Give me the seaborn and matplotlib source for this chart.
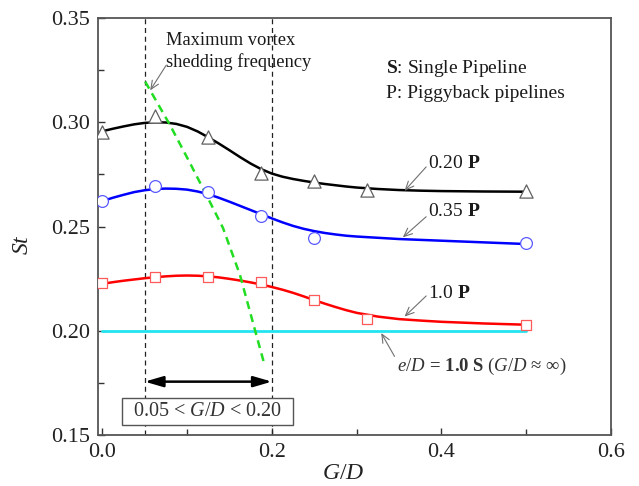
import matplotlib
matplotlib.use("Agg")
import matplotlib.pyplot as plt
import seaborn as sns
import numpy as np
import pandas as pd
from matplotlib.patches import Rectangle
from matplotlib.ticker import MultipleLocator

# ---------------- data ----------------
# measured points
gd_pts = [0.0, 0.0625, 0.125, 0.1875, 0.25, 0.3125, 0.5]
st_020 = [0.2955, 0.3032, 0.2928, 0.2756, 0.2718, 0.2675, 0.2670]
gd_pts_035 = [0.0, 0.0625, 0.125, 0.1875, 0.25, 0.5]
st_035 = [0.2622, 0.2694, 0.2665, 0.2550, 0.2445, 0.2421]
st_100 = [0.2230, 0.2258, 0.2258, 0.2234, 0.2148, 0.2057, 0.2029]

# fitted curves
gd_fit = [0.0, 0.0125, 0.025, 0.0375, 0.05, 0.0625, 0.075, 0.0875, 0.1, 0.1125,
          0.125, 0.1375, 0.15, 0.1625, 0.175, 0.1875, 0.2, 0.2125, 0.225, 0.2375,
          0.25, 0.2625, 0.275, 0.2875, 0.3, 0.325, 0.35, 0.375, 0.4, 0.45, 0.5]
fit_020 = [0.2957, 0.2969, 0.2980, 0.2990, 0.2997, 0.3000, 0.2999, 0.2992, 0.2978, 0.2956,
           0.2928, 0.2898, 0.2866, 0.2833, 0.2802, 0.2775, 0.2754, 0.2739, 0.2728, 0.2719,
           0.2711, 0.2704, 0.2698, 0.2692, 0.2687, 0.2680, 0.2675, 0.2672, 0.2670, 0.2668, 0.2667]
fit_035 = [0.2622, 0.2638, 0.2652, 0.2665, 0.2674, 0.2680, 0.2682, 0.2681, 0.2677, 0.2668,
           0.2655, 0.2638, 0.2619, 0.2599, 0.2579, 0.2559, 0.2539, 0.2520, 0.2503, 0.2489,
           0.2478, 0.2469, 0.2462, 0.2456, 0.2452, 0.2446, 0.2440, 0.2436, 0.2432, 0.2424, 0.2416]
fit_100 = [0.2225, 0.2233, 0.2240, 0.2246, 0.2252, 0.2257, 0.2261, 0.2264, 0.2265, 0.2264,
           0.2261, 0.2256, 0.2249, 0.2241, 0.2232, 0.2222, 0.2210, 0.2197, 0.2182, 0.2165,
           0.2147, 0.2130, 0.2114, 0.2099, 0.2086, 0.2068, 0.2056, 0.2049, 0.2043, 0.2035, 0.2029]

# single pipeline reference
gd_single = [0.0, 0.5]
st_single = [0.20, 0.20]

# maximum vortex shedding frequency trend
gd_max = [0.0506, 0.0800, 0.1035, 0.1247, 0.1424, 0.1624, 0.1800, 0.1906]
st_max = [0.3195, 0.2986, 0.2804, 0.2636, 0.2493, 0.2268, 0.2005, 0.1848]

# range
range_lo, range_hi = 0.05, 0.20

# ---------------- style ----------------
sns.set_theme(style="ticks")
plt.rcParams["font.family"] = ["Liberation Serif", "DejaVu Serif"]
plt.rcParams["mathtext.fontset"] = "custom"
plt.rcParams["mathtext.rm"] = "Liberation Serif"
plt.rcParams["mathtext.it"] = "Liberation Serif:italic"
plt.rcParams["mathtext.bf"] = "Liberation Serif:bold"

fig = plt.figure(figsize=(6.39, 4.86), dpi=100)
ax = fig.add_axes([0.1534, 0.1049, 0.8028, 0.858])

# vertical dashed lines
for xv in (range_lo, range_hi):
    ax.axvline(xv, color="#222222", lw=0.9, ls=(0, (4, 3)), zorder=1)

# fitted lines
sns.lineplot(x=gd_fit, y=fit_020, ax=ax, color="black", lw=1.8, zorder=2)
sns.lineplot(x=gd_fit, y=fit_035, ax=ax, color="#0000ff", lw=1.8, zorder=2)
sns.lineplot(x=gd_fit, y=fit_100, ax=ax, color="#ff0000", lw=1.8, zorder=2)
sns.lineplot(x=gd_single, y=st_single, ax=ax, color="#22e5f0", lw=2.0, zorder=2)
sns.lineplot(x=gd_max, y=st_max, ax=ax, color="#22dd22", lw=1.8, zorder=3,
             linestyle=(0, (3.2, 2.2)))

# markers
sns.scatterplot(x=gd_pts, y=st_020, ax=ax, marker="^", s=9.5**2, facecolor="white",
                edgecolor="#606060", linewidth=0.9, zorder=4)
sns.scatterplot(x=gd_pts_035, y=st_035, ax=ax, marker="o", s=8.5**2, facecolor="white",
                edgecolor="#5a5aff", linewidth=0.9, zorder=4)
sns.scatterplot(x=gd_pts, y=st_100, ax=ax, marker="s", s=6.8**2, facecolor="white",
                edgecolor="#ff5a5a", linewidth=0.9, zorder=4)

ax.xaxis.set_major_locator(MultipleLocator(0.2))
ax.xaxis.set_minor_locator(MultipleLocator(0.1))
ax.yaxis.set_minor_locator(MultipleLocator(0.025))
ax.set_xticks([0.0, 0.2, 0.4, 0.6])
ax.set_xticklabels(["0.0", "0.2", "0.4", "0.6"])
ax.set_yticks([0.15, 0.20, 0.25, 0.30, 0.35])
ax.set_yticklabels(["0.15", "0.20", "0.25", "0.30", "0.35"])
ax.set_xlim(-0.005, 0.6)
ax.set_ylim(0.15, 0.35)
ax.tick_params(which="both", direction="in", top=False, right=False,
               colors="#333333", labelcolor="#222222", width=1.0)
ax.tick_params(which="major", length=5, labelsize=16, pad=6)
ax.tick_params(which="minor", length=4)
for sp in ax.spines.values():
    sp.set_visible(True)
    sp.set_color("#555555")
    sp.set_linewidth(1.3)

ax.set_xlabel("$G/D$", fontsize=17, color="#222222")
ax.set_ylabel("$St$", fontsize=17, color="#222222")
ax.xaxis.set_label_coords(0.478, -0.067)
ax.yaxis.set_label_coords(-0.127, 0.456)

txt = "#1a1a1a"
gray_arrow = dict(arrowstyle="->,head_length=0.5,head_width=0.22", color="#707070", lw=0.8,
                  shrinkA=0, shrinkB=0)

ax.text(0.0753, 0.3431, "Maximum vortex\nshedding frequency", fontsize=13.3,
        ha="left", va="top", color=txt, linespacing=1.25)
ax.annotate("", xy=(0.0565, 0.3153), xytext=(0.0753, 0.3273), arrowprops=gray_arrow)

ax.text(0.335, 0.3258, r"$\mathbf{S}$: Single Pipeline", fontsize=14, ha="left", va="center", color=txt)
ax.text(0.335, 0.3139, "P: Piggyback pipelines", fontsize=14, ha="left", va="center", color=txt)

ax.text(0.384, 0.2804, r"0.20 $\mathbf{P}$", fontsize=14, ha="left", va="center", color=txt)
ax.annotate("", xy=(0.3565, 0.2671), xytext=(0.382, 0.2786), arrowprops=gray_arrow)
ax.text(0.384, 0.2571, r"0.35 $\mathbf{P}$", fontsize=14, ha="left", va="center", color=txt)
ax.annotate("", xy=(0.3545, 0.2448), xytext=(0.382, 0.2547), arrowprops=gray_arrow)
ax.text(0.384, 0.2177, r"1.0 $\mathbf{P}$", fontsize=14, ha="left", va="center", color=txt)
ax.annotate("", xy=(0.3565, 0.2068), xytext=(0.382, 0.2167), arrowprops=gray_arrow)

ax.text(0.3475, 0.1829, r"$e/D\,\mathbf{=}\,\mathbf{1.0\ S}$ ($G/D$ ≈ ∞)", fontsize=13.5,
        ha="left", va="center", color="#333333")
ax.annotate("", xy=(0.329, 0.1989), xytext=(0.3447, 0.1877), arrowprops=gray_arrow)

# double arrow for range
ax.annotate("", xy=(range_lo, 0.1756), xytext=(range_hi, 0.1756),
            arrowprops=dict(arrowstyle="<|-|>,head_length=1.1,head_width=0.32",
                            color="black", lw=1.8, shrinkA=0, shrinkB=0, mutation_scale=10))

ax.add_patch(Rectangle((0.0235, 0.155), 0.2012, 0.0129, facecolor="white",
                       edgecolor="#555555", lw=1.0, zorder=5))
ax.text(0.1241, 0.1614, r"0.05 < $G/D$ < 0.20", fontsize=14.5, ha="center", va="center",
        color="#333333", zorder=6)

fig.savefig("out.png", dpi=100)
